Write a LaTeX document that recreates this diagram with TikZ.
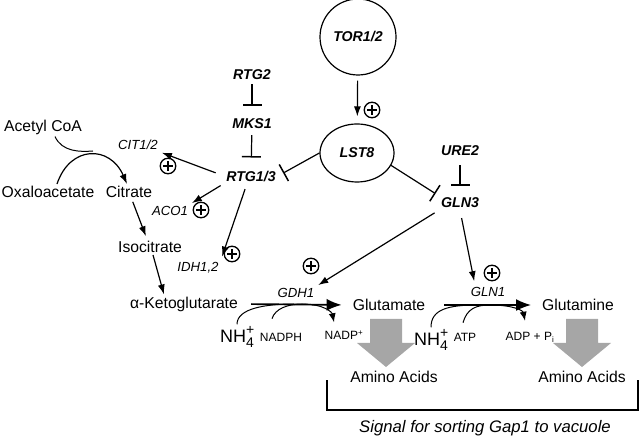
\documentclass[tikz,border=0pt]{standalone}
\usepackage{fontspec}
\setmainfont{Liberation Sans}
\usepackage{tikz}
\usetikzlibrary{arrows.meta,shapes.geometric}

\newcommand{\ammonium}{NH\rlap{\raisebox{7.5pt}{\fontsize{14}{14}\selectfont +}}\raisebox{-5.5pt}{\fontsize{14}{14}\selectfont 4}}

\tikzset{
  metab/.style={inner sep=2pt,font=\fontsize{15.7}{18}\selectfont},
  gene/.style={inner sep=2pt,font=\fontsize{14.2}{16}\selectfont\bfseries\itshape},
  enzyme/.style={inner sep=2pt,font=\fontsize{13.2}{15}\selectfont\itshape},
  cofac/.style={inner sep=2pt,font=\fontsize{12}{14}\selectfont},
  act/.style={line width=1.2pt,-{Latex[length=10pt,width=7pt]}},
  inhib/.style={line width=1.2pt,-{Bar[width=19pt,line width=1.5pt]}},
  rxn/.style={line width=1.7pt,-{Latex[length=15pt,width=12pt]}},
  side/.style={line width=1pt},
  plusmark/.style={circle,draw,line width=1.3pt,inner sep=0pt,minimum size=15.5pt,
    path picture={\draw[line width=1.3pt]
      (path picture bounding box.center) ++(-5pt,0) -- ++(10pt,0)
      (path picture bounding box.center) ++(0,-5pt) -- ++(0,10pt);}},
  blockarrow/.style={fill=black!35}
}

\begin{document}
\begin{tikzpicture}[x=1pt,y=-1pt]
    \useasboundingbox (0,0) rectangle (640,438);

    % signalling part
    \node[gene,circle,draw,line width=1.2pt,minimum size=76pt] (tor) at (358,37) {TOR1/2};
    \node[gene,ellipse,draw,line width=1.2pt,minimum width=74pt,minimum height=58pt] (lst8) at (357,153) {LST8};
    \node[gene] (rtg2) at (252,75) {RTG2};
    \node[gene] (mks1) at (252,124) {MKS1};
    \node[gene] (rtg13) at (251,176) {RTG1/3};
    \node[gene] (ure2) at (460,151) {URE2};
    \node[gene] (gln3) at (460,203) {GLN3};

    \draw[act,shorten <=5pt,shorten >=7pt] (tor) -- (lst8);
    \draw[inhib,shorten <=2pt,shorten >=11pt] (rtg2) -- (mks1);
    \draw[inhib,shorten <=4pt,shorten >=11pt] (mks1) -- (rtg13);
    \draw[inhib,shorten >=6pt] (lst8.west) -- (rtg13.east);
    \draw[inhib,shorten >=4pt] (lst8.-20) -- (gln3.north west);
    \draw[inhib,shorten <=7pt,shorten >=10pt] (ure2) -- (gln3);

    % enzymes
    \node[enzyme] (cit12) at (138,145) {CIT1/2};
    \node[enzyme] (aco1) at (170,211) {ACO1};
    \node[enzyme] (idh12) at (198,268) {IDH1,2};
    \node[enzyme] (gdh1) at (296,293) {GDH1};
    \node[enzyme] (gln1) at (488,292) {GLN1};

    \draw[act,shorten <=9pt,shorten >=2pt] (rtg13.west) -- (cit12.south east);
    \draw[act,shorten <=4pt,shorten >=2pt] (rtg13.south west) -- (aco1.north east);
    \draw[act,shorten <=6pt,shorten >=4pt] ([xshift=-4pt]rtg13.south) -- (idh12.north east);
    \draw[act,shorten <=5pt,shorten >=2pt] (gln3.south west) -- (gdh1.north east);
    \draw[act,shorten <=8pt,shorten >=4pt] (gln3.south) -- ([xshift=-13pt]gln1.north);

    \node[plusmark] (p1) at (372,110) {};
    \node[plusmark] (p2) at (168,166) {};
    \node[plusmark] (p3) at (201,210) {};
    \node[plusmark] (p4) at (232,254) {};
    \node[plusmark] (p5) at (311,266) {};
    \node[plusmark] (p6) at (492,273) {};

    % metabolites
    \node[metab] (acoa) at (43,127) {Acetyl CoA};
    \node[metab] (oxa) at (48,192) {Oxaloacetate};
    \node[metab] (cit) at (129,192) {Citrate};
    \node[metab] (iso) at (150,247) {Isocitrate};
    \node[metab] (akg) at (184,304) {α-Ketoglutarate};
    \node[metab] (glu) at (389,305) {Glutamate};
    \node[metab] (gln) at (578,305) {Glutamine};

    \coordinate (acjoin) at (93,151);
    \draw[act] ([xshift=9pt]oxa.north) .. controls (70,145) and (110,145) .. ([xshift=-2pt]cit.north);
    \draw[side] ([xshift=12pt]acoa.south) .. controls (62,152) and (80,152) .. (acjoin);
    \draw[act,shorten <=2pt,shorten >=3pt] (cit) -- (iso);
    \draw[act] ([xshift=3pt]iso.south) -- ([xshift=-20pt]akg.north);

    % GDH1 and GLN1 reactions
    \node[metab,font=\fontsize{18}{20}\selectfont] (nh4a) at (237,337) {\ammonium};
    \node[cofac] (nadph) at (281,337) {NADPH};
    \node[cofac] (nadp) at (344,335) {NADP\textsuperscript{+}};
    \node[metab,font=\fontsize{18}{20}\selectfont] (nh4b) at (431,340) {\ammonium};
    \node[cofac] (atp) at (465,337) {ATP};
    \node[cofac] (adp) at (530,337) {ADP + P\textsubscript{i}};

    \draw[rxn,shorten <=11pt,shorten >=9pt] (akg.east) -- (glu.west);
    \draw[rxn,shorten <=17pt,shorten >=9pt] (glu.east) -- (gln.west);

    \coordinate (gdhin) at (294,304);
    \coordinate (gdhout) at (302,304);
    \draw[side] (nh4a.north) .. controls +(0,-16) and +(-28,0) .. (gdhin);
    \draw[side] ([shift={(-9,-12)}]nadph.north) .. controls +(3,-10) and +(-14,0) .. (gdhout);
    \draw[side,-{Latex[length=9pt,width=7pt]}] (gdhout) .. controls +(22,0) and +(-2,-10) .. ([shift={(-10,-6)}]nadp.north);

    \coordinate (glnin) at (478,305);
    \coordinate (glnout) at (490,305);
    \draw[side] (nh4b.north) .. controls +(0,-18) and +(-30,0) .. (glnin);
    \draw[side] ([shift={(-2,-8)}]atp.north) .. controls +(4,-14) and +(-14,0) .. (glnout);
    \draw[side,-{Latex[length=9pt,width=7pt]}] (glnout) .. controls +(24,0) and +(-2,-10) .. ([shift={(-5,-9)}]adp.north);

    % amino acids and the sorting signal
    \fill[blockarrow] (370,319) -- ++(32,0) -- ++(0,24) -- ++(13,0) -- ++(-29,24) -- ++(-29,-24) -- ++(13,0) -- cycle;
    \fill[blockarrow] (566,319) -- ++(32,0) -- ++(0,24) -- ++(13,0) -- ++(-29,24) -- ++(-29,-24) -- ++(13,0) -- cycle;
    \node[metab] (aa1) at (394,377) {Amino Acids};
    \node[metab] (aa2) at (582,377) {Amino Acids};

    \draw[line width=1.3pt] (327,380) -- (327,410) -- (638,410) -- (638,380);
    \node[metab,font=\fontsize{16.7}{19}\selectfont\itshape] (signal) at (485,428) {Signal for sorting Gap1 to vacuole};
\end{tikzpicture}
\end{document}
